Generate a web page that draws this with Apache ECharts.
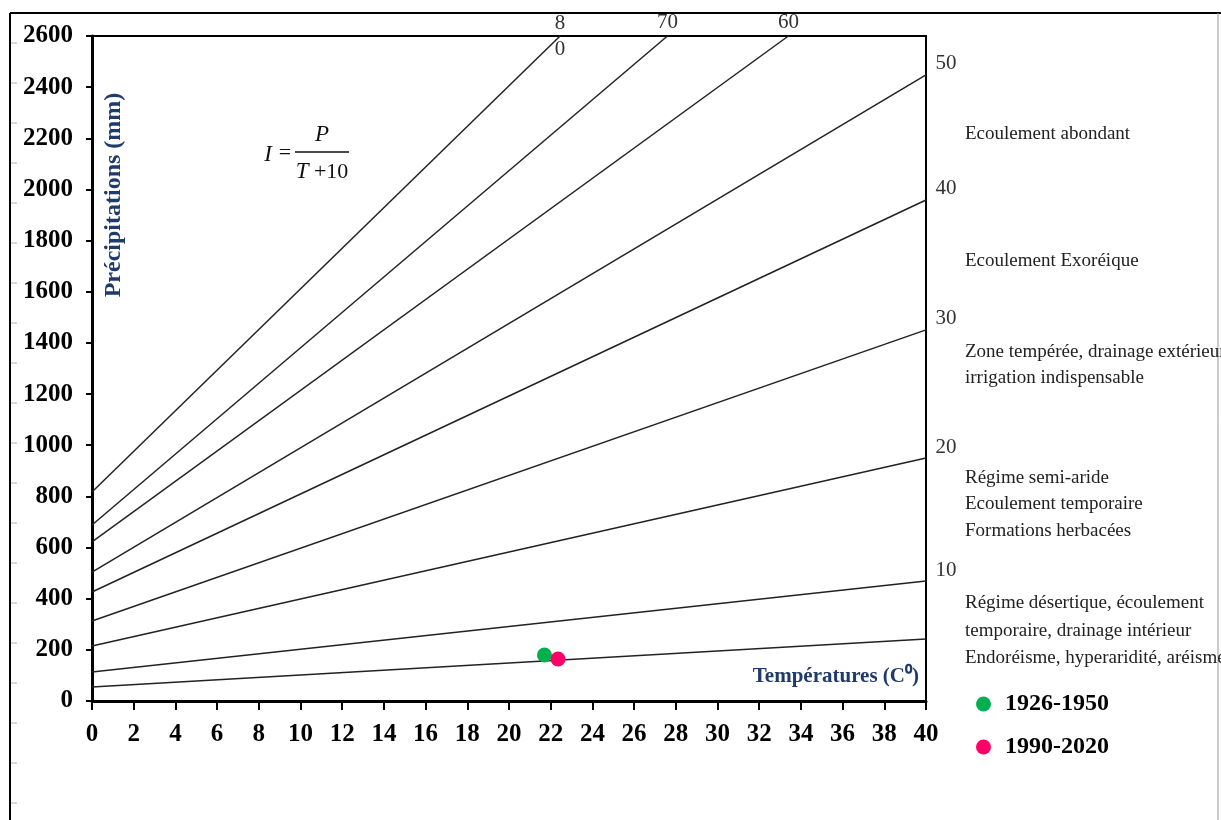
<!DOCTYPE html>
<html><head><meta charset="utf-8">
<script src="https://cdn.jsdelivr.net/npm/echarts@6/dist/echarts.min.js"></script>
<style>html,body{margin:0;padding:0;background:#fff}#c{width:1221px;height:820px}</style>
</head><body><div id="c"></div>
<script>
// De Martonne index lines  P = I * (T + 10)
const indexValues = [5, 10, 20, 30, 40, 50, 60, 70, 80];
const indexLabels = ['', '10', '20', '30', '40', '50', '60', '70', '8\n0'];
const lineStartP = [55, 113, 215, 313, 426, 504, 622, 688, 817];   // P at T = 0
const lineEndT = [40, 40, 40, 40, 40, 40, 33.4, 27.6, 22.45];
const lineEndP = [242, 469, 950, 1451, 1959, 2448, 2600, 2600, 2600];
// Station points
const periodNames = ['1926-1950', '1990-2020'];
const periodT = [21.7, 22.35];
const periodP = [180, 164];
const periodColors = ['#00B050', '#FF0066'];
// Zone descriptions (right side)
const zoneLines = [
  'Ecoulement abondant',
  'Ecoulement Exoréique',
  'Zone tempérée, drainage extérieur',
  'irrigation indispensable',
  'Régime semi-aride',
  'Ecoulement temporaire',
  'Formations herbacées',
  'Régime désertique, écoulement',
  'temporaire, drainage intérieur',
  'Endoréisme, hyperaridité, aréisme'
];

const SERIF = '"Liberation Serif", "Times New Roman", serif';
const NAVY = '#1F3A6B';

const chart = echarts.init(document.getElementById('c'));

const lineSeries = indexValues.map((I, i) => {
  const lbl = indexLabels[i];
  let endLabel = { show: false };
  if (lbl) {
    if (lineEndT[i] >= 40) {
      endLabel = { show: true, position: 'right', distance: 9, offset: [0, -11],
        formatter: lbl, fontFamily: SERIF, fontSize: 21, color: '#333' };
    } else if (lbl.indexOf('\n') >= 0) {
      endLabel = { show: true, position: 'inside', formatter: lbl, lineHeight: 26,
        fontFamily: SERIF, fontSize: 21, color: '#333' };
    } else {
      endLabel = { show: true, position: 'top', distance: 3, formatter: lbl,
        fontFamily: SERIF, fontSize: 21, color: '#333' };
    }
  }
  return {
    type: 'line',
    name: 'I=' + I,
    silent: true,
    symbol: 'circle',
    symbolSize: 1,
    itemStyle: { color: '#222' },
    lineStyle: { color: '#222', width: 1.5 },
    clip: true,
    z: 2,
    data: [
      { value: [0, lineStartP[i]] },
      { value: [lineEndT[i], lineEndP[i]], label: endLabel }
    ]
  };
});

const pointSeries = periodNames.map((n, i) => ({
  type: 'scatter',
  name: n,
  symbol: 'circle',
  symbolSize: 15,
  itemStyle: { color: periodColors[i], opacity: 1 },
  z: 5,
  data: [[periodT[i], periodP[i]]]
}));

const zoneY = [134, 261, 352, 378, 478, 504, 531, 603, 631, 658];
const graphics = [
  { type: 'line', shape: { x1: 10, y1: 13, x2: 1221, y2: 13 }, style: { stroke: '#000', lineWidth: 2 } },
  { type: 'line', shape: { x1: 10, y1: 13, x2: 10, y2: 820 }, style: { stroke: '#000', lineWidth: 2 } },
  { type: 'line', shape: { x1: 1218, y1: 13, x2: 1218, y2: 820 }, style: { stroke: '#999', lineWidth: 1 } },
  { type: 'text', x: 114, y: 195, rotation: Math.PI / 2,
    style: { text: 'Précipitations (mm)', fontFamily: SERIF, fontWeight: 'bold', fontSize: 24,
      fill: NAVY, align: 'center', verticalAlign: 'middle' } },
  { type: 'text', x: 919, y: 677,
    style: { text: 'Températures (C⁰)', fontFamily: SERIF, fontWeight: 'bold', fontSize: 21,
      fill: NAVY, align: 'right', verticalAlign: 'middle' } },
  // formula
  { type: 'text', x: 268, y: 155, style: { text: 'I', fontFamily: SERIF, fontStyle: 'italic', fontSize: 23, fill: '#111', align: 'center', verticalAlign: 'middle' } },
  { type: 'text', x: 285, y: 153, style: { text: '=', fontFamily: SERIF, fontSize: 22, fill: '#111', align: 'center', verticalAlign: 'middle' } },
  { type: 'line', shape: { x1: 295, y1: 152, x2: 349, y2: 152 }, style: { stroke: '#111', lineWidth: 1.5 } },
  { type: 'text', x: 322, y: 135, style: { text: 'P', fontFamily: SERIF, fontStyle: 'italic', fontSize: 23, fill: '#111', align: 'center', verticalAlign: 'middle' } },
  { type: 'text', x: 322, y: 172, style: { text: '{i|T} +10', fontFamily: SERIF, fontSize: 22, fill: '#111', align: 'center', verticalAlign: 'middle',
      rich: { i: { fontFamily: SERIF, fontStyle: 'italic', fontSize: 23, fill: '#111' } } } }
];
for (let y = 43; y <= 803; y += 40) {
  graphics.push({ type: 'line', shape: { x1: 11, y1: y, x2: 17, y2: y }, style: { stroke: '#9FB4CF', lineWidth: 1 } });
}
zoneLines.forEach((t, i) => {
  graphics.push({ type: 'text', x: 965, y: zoneY[i],
    style: { text: t, fontFamily: SERIF, fontSize: 19, fill: '#222', align: 'left', verticalAlign: 'middle' } });
});

const axisLabelStyle = { fontFamily: SERIF, fontWeight: 'bold', fontSize: 25, color: '#000' };

chart.setOption({
  animation: false,
  backgroundColor: '#fff',
  grid: { left: 92, right: 295, top: 36, bottom: 119, show: true, borderColor: '#000', borderWidth: 2, containLabel: false },
  xAxis: {
    type: 'value', min: 0, max: 40, interval: 2,
    axisLine: { show: true, lineStyle: { color: '#000', width: 3 } },
    axisTick: { show: true, length: 9, lineStyle: { color: '#000', width: 2 } },
    axisLabel: Object.assign({ margin: 21, formatter: v => String(v) }, axisLabelStyle),
    splitLine: { show: false }
  },
  yAxis: {
    type: 'value', min: 0, max: 2600, interval: 200,
    axisLine: { show: true, lineStyle: { color: '#000', width: 3 } },
    axisTick: { show: true, length: 6, lineStyle: { color: '#000', width: 2 } },
    axisLabel: Object.assign({ margin: 19, formatter: v => String(v) }, axisLabelStyle),
    splitLine: { show: false }
  },
  legend: {
    data: periodNames,
    orient: 'vertical',
    left: 971, top: 687,
    itemWidth: 15, itemHeight: 15, itemGap: 19,
    icon: 'circle',
    textStyle: { fontFamily: SERIF, fontWeight: 'bold', fontSize: 24, color: '#000', padding: [0, 0, 0, 9] }
  },
  graphic: graphics,
  series: lineSeries.concat(pointSeries)
});
</script></body></html>
